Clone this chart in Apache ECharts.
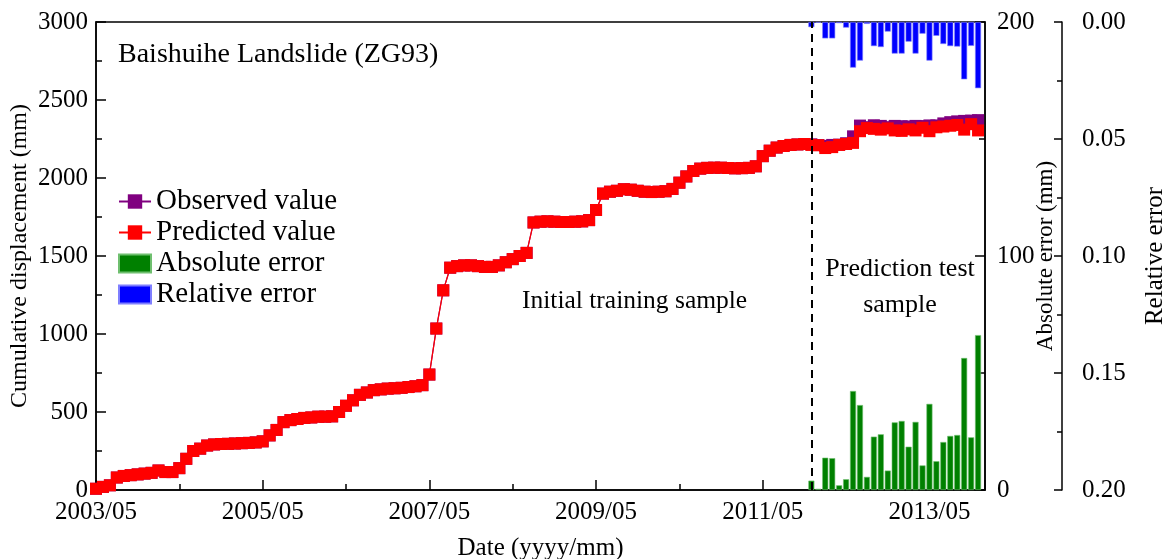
<!DOCTYPE html>
<html>
<head>
<meta charset="utf-8">
<script src="https://cdn.jsdelivr.net/npm/echarts@6/dist/echarts.min.js"></script>
<style>html,body{margin:0;padding:0;background:#fff}#c{width:1166px;height:559px}</style>
</head>
<body>
<div id="c"></div>
<script>
// x tick labels (every 24 months starting 2003/05)
const tickLabels = ['2003/05','2005/05','2007/05','2009/05','2011/05','2013/05'];
// monthly cumulative displacement, training part (2003/05 .. 2011/11), observed = predicted
const trainDisplacement = [8,20,30,80,90,95,100,105,110,125,115,115,140,200,250,265,285,292,295,296,298,300,302,305,312,350,385,435,448,455,462,465,470,470,472,500,540,575,610,625,640,645,650,652,655,660,665,672,740,1035,1280,1425,1435,1440,1440,1435,1430,1430,1440,1460,1480,1500,1520,1715,1720,1722,1720,1718,1718,1720,1722,1730,1795,1900,1912,1918,1928,1925,1918,1912,1910,1912,1915,1930,1970,2010,2045,2060,2065,2066,2066,2064,2062,2063,2065,2075,2140,2175,2195,2205,2212,2215,2218];
// test part (2011/12 .. 2013/12)
const testPredicted = [2212,2210,2192,2198,2212,2218,2225,2300,2320,2315,2310,2318,2305,2302,2312,2305,2322,2300,2325,2330,2335,2340,2310,2345,2305];
const testObserved  = [2216,2211,2206,2212,2214,2223,2267,2336,2326,2338,2334,2326,2334,2332,2330,2334,2333,2337,2337,2350,2358,2363,2366,2368,2371];
const absoluteError = [4.0,0.5,13.8,13.6,2.0,4.6,42.3,36.3,5.6,22.8,23.8,8.3,28.9,29.5,18.5,29.1,10.5,36.8,12.3,20.5,23.1,23.5,56.4,22.5,66.2];
const relativeError = [0.0022,0.0003,0.0070,0.0070,0.0005,0.0024,0.0195,0.0165,0.0008,0.0103,0.0107,0.0041,0.0135,0.0135,0.0084,0.0135,0.0050,0.0165,0.0059,0.0094,0.0103,0.0105,0.0245,0.0102,0.0283];
const testStart = trainDisplacement.length; // month index of 2011/12

const observed = trainDisplacement.concat(testObserved).map((v,i)=>[i,v]);
const predicted = trainDisplacement.concat(testPredicted).map((v,i)=>[i,v]);
const absData = absoluteError.map((v,k)=>[testStart+k,v]);
const relData = relativeError.map((v,k)=>[testStart+k,v]);

const FONT = "'Liberation Serif','Times New Roman',serif";
const chart = echarts.init(document.getElementById('c'));
const axisLineStyle = {color:'#000', width:1.5};
chart.setOption({
  animation:false,
  textStyle:{fontFamily:FONT, color:'#000'},
  grid:{left:96, right:181, top:22, bottom:69, outerBoundsMode:'none', containLabel:false,
        show:true, borderColor:'#000', borderWidth:1.5, backgroundColor:'transparent'},
  legend:{
    orient:'vertical', left:113, top:182, itemWidth:32, itemHeight:18, itemGap:2,
    textStyle:{fontFamily:FONT, fontSize:29, lineHeight:29, color:'#000'},
    data:[
      {name:'Observed value'},
      {name:'Predicted value'},
      {name:'Absolute error', icon:'rect'},
      {name:'Relative error', icon:'rect'}
    ]
  },
  xAxis:{
    type:'value', min:0, max:128, interval:24,
    name:'Date (yyyy/mm)', nameLocation:'middle', nameGap:46,
    nameTextStyle:{fontFamily:FONT, fontSize:25, color:'#000'},
    axisLine:{show:true, lineStyle:axisLineStyle},
    axisTick:{show:true, inside:true, length:10, lineStyle:axisLineStyle},
    minorTick:{show:true, splitNumber:2, length:6, lineStyle:{color:'#000', width:1.5}},
    splitLine:{show:false},
    axisLabel:{fontFamily:FONT, fontSize:25, color:'#000', margin:10,
      formatter:v=>tickLabels[Math.round(v/24)] || ''}
  },
  yAxis:[
    {type:'value', min:0, max:3000, interval:500, position:'left',
     name:'Cumulative displacement (mm)', nameLocation:'middle', nameGap:64, nameMoveOverlap:false,
     nameTextStyle:{fontFamily:FONT, fontSize:24, color:'#000'},
     axisLine:{show:true, lineStyle:axisLineStyle},
     axisTick:{show:true, inside:true, length:10, lineStyle:axisLineStyle},
     minorTick:{show:true, splitNumber:2, length:6, lineStyle:{color:'#000', width:1.5}},
     splitLine:{show:false},
     axisLabel:{fontFamily:FONT, fontSize:25, color:'#000', margin:8, formatter:v=>String(v)}},
    {type:'value', min:0, max:200, interval:100, position:'right',
     name:'Absolute error (mm)', nameLocation:'middle', nameGap:49, nameRotate:90, nameMoveOverlap:false,
     nameTextStyle:{fontFamily:FONT, fontSize:23, color:'#000'},
     axisLine:{show:true, lineStyle:axisLineStyle},
     axisTick:{show:true, inside:true, length:10, lineStyle:axisLineStyle},
     minorTick:{show:true, splitNumber:2, length:6, lineStyle:{color:'#000', width:1.5}},
     splitLine:{show:false},
     axisLabel:{fontFamily:FONT, fontSize:25, color:'#000', margin:12, formatter:v=>String(v)}},
    {type:'value', min:0, max:0.2, interval:0.05, position:'right', offset:77, inverse:true,
     name:'Relative error', nameLocation:'middle', nameGap:81, nameRotate:90, nameMoveOverlap:false,
     nameTextStyle:{fontFamily:FONT, fontSize:25, color:'#000'},
     axisLine:{show:true, lineStyle:axisLineStyle},
     axisTick:{show:true, inside:true, length:8, lineStyle:axisLineStyle},
     minorTick:{show:true, splitNumber:2, length:5, lineStyle:{color:'#000', width:1.5}},
     splitLine:{show:false},
     axisLabel:{fontFamily:FONT, fontSize:25, color:'#000', margin:20, formatter:v=>v.toFixed(2)}}
  ],
  graphic:[
    {type:'text', left:118, top:41, style:{text:'Baishuihe Landslide (ZG93)', font:'28px '+FONT, fill:'#000'}},
    {type:'text', left:522, top:288, style:{text:'Initial training sample', font:'25.5px '+FONT, fill:'#000'}},
    {type:'text', x:900, y:251, style:{text:'Prediction test\nsample', font:'26px '+FONT, fill:'#000', align:'center', lineHeight:36}}
  ],
  series:[
    {name:'Observed value', type:'line', data:observed, yAxisIndex:0,
     symbol:'rect', symbolSize:12, color:'#800080', lineStyle:{width:1.2, color:'#800080'}, itemStyle:{color:'#800080'}, z:3},
    {name:'Predicted value', type:'line', data:predicted, yAxisIndex:0,
     symbol:'rect', symbolSize:12, color:'#ff0000', lineStyle:{width:1.2, color:'#ff0000'}, itemStyle:{color:'#ff0000'}, z:4,
     markLine:{silent:true, symbol:['none','none'], label:{show:false},
       lineStyle:{color:'#000', type:[8,6], width:2},
       data:[{xAxis:testStart}]}},
    {name:'Absolute error', type:'bar', data:absData, yAxisIndex:1, barWidth:6, barGap:'-100%',
     color:'#008000', itemStyle:{color:'#008000', borderColor:'#6fbf6f', borderWidth:0.6}, z:2},
    {name:'Relative error', type:'bar', data:relData, yAxisIndex:2, barWidth:6, barGap:'-100%',
     color:'#0000ff', itemStyle:{color:'#0000ff', borderColor:'#7f7fff', borderWidth:0.6}, z:2}
  ]
});
</script>
</body>
</html>
